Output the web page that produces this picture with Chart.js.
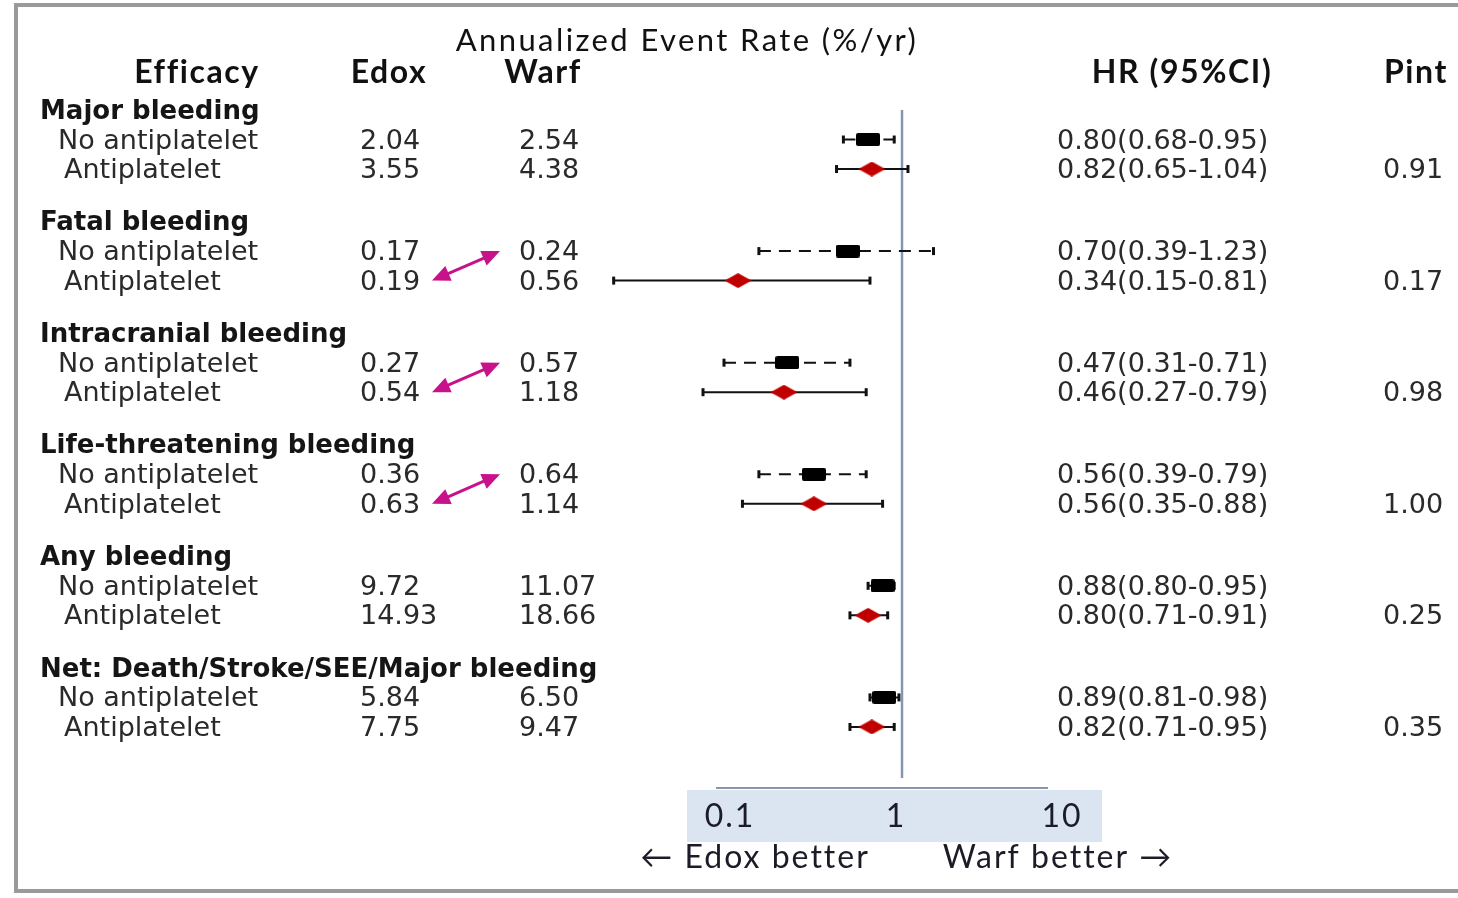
<!DOCTYPE html>
<html>
<head>
<meta charset="utf-8">
<script src="https://cdn.jsdelivr.net/npm/chart.js@4.4.1/dist/chart.umd.min.js"></script>
<style>
body { margin: 0; background: #fff; }
canvas { display: block; }
</style>
</head>
<body>
<canvas id="forest" width="1458" height="898"></canvas>
<script>
const grupos = ['Major bleeding', 'Fatal bleeding', 'Intracranial bleeding',
  'Life-threatening bleeding', 'Any bleeding', 'Net: Death/Stroke/SEE/Major bleeding'];
const subgrupos = ['No antiplatelet', 'Antiplatelet'];

// taxa anual de eventos (%/ano)
const edoxSem = [2.04, 0.17, 0.27, 0.36, 9.72, 5.84];
const edoxCom = [3.55, 0.19, 0.54, 0.63, 14.93, 7.75];
const warfSem = [2.54, 0.24, 0.57, 0.64, 11.07, 6.50];
const warfCom = [4.38, 0.56, 1.18, 1.14, 18.66, 9.47];

// HR e IC 95%
const hrSem = [0.80, 0.70, 0.47, 0.56, 0.88, 0.89];
const loSem = [0.68, 0.39, 0.31, 0.39, 0.80, 0.81];
const hiSem = [0.95, 1.23, 0.71, 0.79, 0.95, 0.98];
const hrCom = [0.82, 0.34, 0.46, 0.56, 0.80, 0.82];
const loCom = [0.65, 0.15, 0.27, 0.35, 0.71, 0.71];
const hiCom = [1.04, 0.81, 0.79, 0.88, 0.91, 0.95];

const pInt = [0.91, 0.17, 0.98, 1.00, 0.25, 0.35];

const ticksEixo = [0.1, 1, 10];
const gruposComSeta = [1, 2, 3];

const PASSO = 3.78;
function linha(g, k) { return g * PASSO + k; }

// marcadores desenhados como imagem (pointStyle)
function criaCaixa() {
  const c = document.createElement('canvas');
  c.width = 24; c.height = 13;
  const x = c.getContext('2d');
  x.fillStyle = '#000';
  x.beginPath();
  x.roundRect(0, 0, 24, 13, 2);
  x.fill();
  return c;
}
function criaLosango() {
  const c = document.createElement('canvas');
  c.width = 27; c.height = 15;
  const x = c.getContext('2d');
  x.fillStyle = '#c00000';
  x.beginPath();
  x.moveTo(0, 7.5); x.lineTo(13.5, 0); x.lineTo(27, 7.5); x.lineTo(13.5, 15);
  x.closePath();
  x.fill();
  return c;
}

function pontosIC(lo, hi, k) {
  const pts = [];
  lo.forEach((v, g) => {
    pts.push({ x: v, y: linha(g, k) });
    pts.push({ x: hi[g], y: linha(g, k) });
    pts.push({ x: null, y: null });
  });
  return pts;
}

const fonteCorpo = '27px "DejaVu Sans"';
const fonteGrupo = 'bold 26px "DejaVu Sans"';
const fonteTitulo = 'bold 32px Lato';

function seta(ctx, x1, y1, x2, y2) {
  const ang = Math.atan2(y2 - y1, x2 - x1);
  const L = 18, W = 8;
  ctx.strokeStyle = '#c8128a';
  ctx.fillStyle = '#c8128a';
  ctx.lineWidth = 3;
  ctx.beginPath();
  ctx.moveTo(x1 + Math.cos(ang) * L * 0.8, y1 + Math.sin(ang) * L * 0.8);
  ctx.lineTo(x2 - Math.cos(ang) * L * 0.8, y2 - Math.sin(ang) * L * 0.8);
  ctx.stroke();
  [[x1, y1, ang], [x2, y2, ang + Math.PI]].forEach(([px, py, a]) => {
    ctx.beginPath();
    ctx.moveTo(px, py);
    ctx.lineTo(px + Math.cos(a) * L - Math.sin(a) * W, py + Math.sin(a) * L + Math.cos(a) * W);
    ctx.lineTo(px + Math.cos(a) * L + Math.sin(a) * W, py + Math.sin(a) * L - Math.cos(a) * W);
    ctx.closePath();
    ctx.fill();
  });
}

const tabela = {
  id: 'tabela',
  beforeDraw(chart) {
    const ctx = chart.ctx;
    const area = chart.chartArea;
    const xt = chart.scales.xt;
    ctx.save();
    // moldura
    ctx.strokeStyle = '#9a9a9a';
    ctx.lineWidth = 4;
    ctx.strokeRect(16, 5, 1480, 886);
    // faixa do eixo
    const e = xt.getPixelForValue(ticksEixo[0]);
    const d = xt.getPixelForValue(ticksEixo[ticksEixo.length - 1]);
    ctx.fillStyle = '#dbe5f1';
    ctx.fillRect(e - 43, area.bottom + 12, d - e + 83, 52);
    ctx.strokeStyle = '#8a96a8';
    ctx.lineWidth = 2;
    ctx.beginPath();
    ctx.moveTo(e - 14, area.bottom + 10);
    ctx.lineTo(d - 14, area.bottom + 10);
    ctx.stroke();
    ctx.restore();
  },
  beforeDatasetsDraw(chart) {
    const ctx = chart.ctx;
    const area = chart.chartArea;
    const x1 = chart.scales.x.getPixelForValue(1);
    ctx.save();
    ctx.strokeStyle = '#8596b0';
    ctx.lineWidth = 2.5;
    ctx.beginPath();
    ctx.moveTo(x1, area.top);
    ctx.lineTo(x1, area.bottom);
    ctx.stroke();
    ctx.restore();
  },
  afterDraw(chart) {
    const ctx = chart.ctx;
    const area = chart.chartArea;
    const y = chart.scales.y;
    const xt = chart.scales.xt;
    ctx.save();
    ctx.textBaseline = 'middle';

    // cabeçalho
    ctx.fillStyle = '#111';
    ctx.font = '31px Lato';
    ctx.letterSpacing = '2.4px';
    ctx.textAlign = 'center';
    ctx.fillText('Annualized Event Rate (%/yr)', 687, 41);
    ctx.font = fonteTitulo;
    ctx.letterSpacing = '1.6px';
    ctx.fillText('Efficacy', 197, 73);
    ctx.fillText('Edox', 389, 73);
    ctx.fillText('Warf', 543, 73);
    ctx.fillText('HR (95%CI)', 1182, 73);
    ctx.fillText('Pint', 1416, 73);
    ctx.letterSpacing = '0px';

    grupos.forEach((nome, g) => {
      const y0 = y.getPixelForValue(linha(g, 0)) + 2;
      const y1 = y.getPixelForValue(linha(g, 1)) + 2;
      const y2 = y.getPixelForValue(linha(g, 2)) + 2;
      ctx.textAlign = 'left';
      ctx.fillStyle = '#151515';
      ctx.font = fonteGrupo;
      ctx.fillText(nome, 40, y0);

      ctx.fillStyle = '#2a2a2a';
      ctx.font = fonteCorpo;
      ctx.fillText(subgrupos[0], 58, y1);
      ctx.fillText(subgrupos[1], 64, y2);
      ctx.fillText(edoxSem[g].toFixed(2), 360, y1);
      ctx.fillText(edoxCom[g].toFixed(2), 360, y2);
      ctx.fillText(warfSem[g].toFixed(2), 519, y1);
      ctx.fillText(warfCom[g].toFixed(2), 519, y2);
      ctx.fillText(hrSem[g].toFixed(2) + '(' + loSem[g].toFixed(2) + '-' + hiSem[g].toFixed(2) + ')', 1057, y1);
      ctx.fillText(hrCom[g].toFixed(2) + '(' + loCom[g].toFixed(2) + '-' + hiCom[g].toFixed(2) + ')', 1057, y2);
      ctx.fillText(pInt[g].toFixed(2), 1383, y2);
    });

    gruposComSeta.forEach(g => {
      seta(ctx, 432, y.getPixelForValue(linha(g, 2)), 500, y.getPixelForValue(linha(g, 1)));
    });

    // rótulos do eixo
    ctx.fillStyle = '#1c1c28';
    ctx.font = '32px Lato';
    ctx.letterSpacing = '2px';
    ctx.textAlign = 'center';
    ticksEixo.forEach(t => {
      ctx.fillText(String(t), xt.getPixelForValue(t), area.bottom + 39);
    });
    ctx.fillText('\u2190 Edox better', 755, area.bottom + 80);
    ctx.fillText('Warf better \u2192', 1058, area.bottom + 80);
    ctx.restore();
  }
};

const ctx = document.getElementById('forest').getContext('2d');

new Chart(ctx, {
  type: 'scatter',
  data: {
    datasets: [
      {
        label: 'HR no antiplatelet',
        data: hrSem.map((v, g) => ({ x: v, y: linha(g, 1) })),
        pointStyle: criaCaixa(),
        pointRadius: 6,
        order: 0
      },
      {
        label: 'HR antiplatelet',
        data: hrCom.map((v, g) => ({ x: v, y: linha(g, 2) })),
        pointStyle: criaLosango(),
        pointRadius: 6,
        order: 0
      },
      {
        label: 'IC no antiplatelet',
        data: pontosIC(loSem, hiSem, 1),
        showLine: true,
        spanGaps: false,
        borderColor: '#111',
        borderWidth: 2,
        borderDash: [12, 8],
        pointStyle: 'line',
        rotation: 90,
        pointRadius: 4,
        pointBorderWidth: 3,
        pointBorderColor: '#111',
        order: 1
      },
      {
        label: 'IC antiplatelet',
        data: pontosIC(loCom, hiCom, 2),
        showLine: true,
        spanGaps: false,
        borderColor: '#111',
        borderWidth: 2,
        pointStyle: 'line',
        rotation: 90,
        pointRadius: 4,
        pointBorderWidth: 3,
        pointBorderColor: '#111',
        order: 1
      }
    ]
  },
  options: {
    responsive: false,
    animation: false,
    events: [],
    layout: { padding: { top: 110, bottom: 120, left: 600, right: 358 } },
    scales: {
      x: { type: 'logarithmic', min: 0.1371, max: 3.679, bounds: 'data', display: false },
      xt: { type: 'logarithmic', axis: 'x', min: 0.01648, max: 16.94, bounds: 'data', display: false },
      y: { type: 'linear', min: 0, max: 22.63, reverse: true, display: false }
    },
    plugins: {
      legend: { display: false },
      tooltip: { enabled: false }
    }
  },
  plugins: [tabela]
});
</script>
</body>
</html>
